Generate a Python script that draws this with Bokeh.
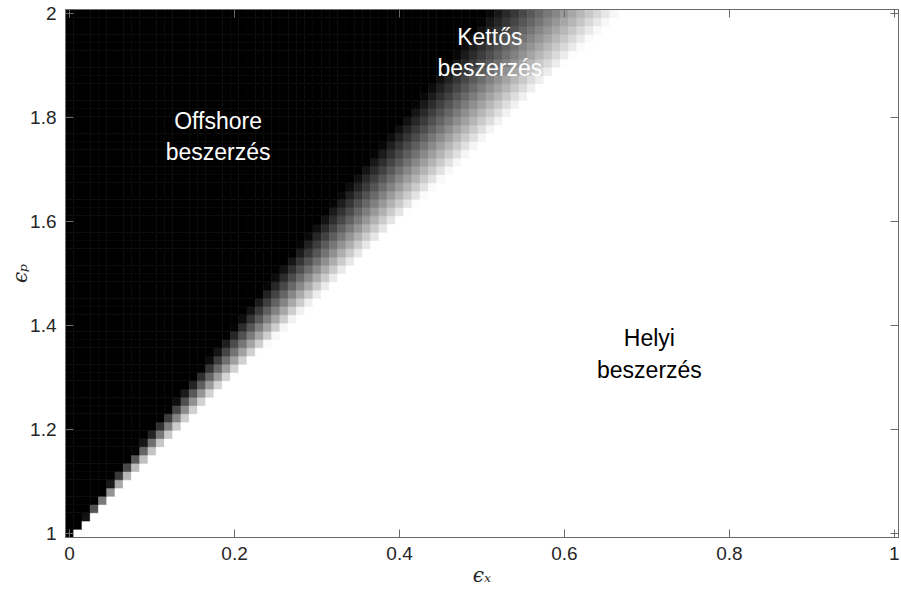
import numpy as np
from bokeh.plotting import figure
from bokeh.models import LinearAxis, FixedTicker, ColumnDataSource, Range1d
from bokeh.core.properties import value
from bokeh.embed import file_html
from bokeh.resources import INLINE

# ---- data ----
x_cells = np.round(np.linspace(0, 1, 101), 4)     # eps_x grid (cell centres)
y_cells = np.linspace(1, 2, 64)                   # eps_p grid (cell centres)

# boundaries of the mixed ("Kettős") zone, read at several eps_p levels
y_knots = [1.0, 1.11, 1.29, 1.47, 1.65, 1.83, 2.0]
black_edge = [0.005, 0.055, 0.146, 0.235, 0.326, 0.420, 0.505]   # offshore ends
white_edge = [0.008, 0.075, 0.190, 0.312, 0.431, 0.550, 0.665]   # local starts

x_ticks = [0, 0.2, 0.4, 0.6, 0.8, 1]
x_tick_labels = ["0", "0.2", "0.4", "0.6", "0.8", "1"]
y_ticks = [1, 1.2, 1.4, 1.6, 1.8, 2]
y_tick_labels = ["1", "1.2", "1.4", "1.6", "1.8", "2"]

x_title = "ϵₓ"
y_title = "ϵₚ"

region_labels = ["Offshore\nbeszerzés", "Kettős\nbeszerzés", "Helyi\nbeszerzés"]
region_x = [0.180, 0.5095, 0.703]
region_y = [1.7636, 1.925, 1.345]
region_colors = ["white", "white", "black"]

# ---- build cells ----
dx = x_cells[1] - x_cells[0]
dy = y_cells[1] - y_cells[0]
xs, ys, cols = [], [], []
for yv in y_cells:
    xb = np.interp(yv, y_knots, black_edge)
    xw = np.interp(yv, y_knots, white_edge)
    for xv in x_cells:
        v = (xv - xb) / max(xw - xb, 1e-9)
        v = min(max(v, 0.0), 1.0)
        g = int(round(255 * v))
        xs.append(xv)
        ys.append(yv)
        cols.append("#%02x%02x%02x" % (g, g, g))
src = ColumnDataSource(dict(x=xs, y=ys, c=cols))

AX = "#6a6a6a"
TXT = "#262626"

p = figure(output_backend="svg", toolbar_location=None,
           width=901, height=594, frame_width=833, frame_height=528,
           min_border_left=65, min_border_top=9, min_border_right=3,
           min_border_bottom=57,
           x_range=Range1d(-dx / 2, 1 + dx / 2),
           y_range=Range1d(1 - dy / 2, 2 + dy / 2),
           x_axis_location=None, y_axis_location=None)
p.grid.visible = False
p.background_fill_color = "white"
p.border_fill_color = "white"
p.outline_line_color = AX
p.outline_line_width = 1

p.rect(x="x", y="y", width=dx, height=dy, fill_color="c", line_color="c",
       line_width=0.6, source=src)

def make_axis(ticks, labels, show_labels, title=None):
    ax = LinearAxis(ticker=FixedTicker(ticks=ticks))
    ax.axis_line_color = AX
    ax.major_tick_line_color = AX
    ax.major_tick_in = 8
    ax.major_tick_out = 0
    ax.minor_tick_line_color = None
    if show_labels:
        ax.major_label_overrides = {t: l for t, l in zip(ticks, labels)}
        ax.major_label_text_font = "Liberation Sans"
        ax.major_label_text_font_size = "19px"
        ax.major_label_text_color = TXT
        ax.major_label_standoff = 9
    else:
        ax.major_label_overrides = {t: "" for t in ticks}
        ax.major_label_text_font_size = "1px"
        ax.major_label_standoff = 0
    if title:
        ax.axis_label = title
        ax.axis_label_text_font = "DejaVu Serif"
        ax.axis_label_text_font_style = "italic"
        ax.axis_label_text_font_size = "20px"
        ax.axis_label_text_color = TXT
    return ax

xb_ax = make_axis(x_ticks, x_tick_labels, True, x_title)
xb_ax.axis_label_standoff = 0
yl_ax = make_axis(y_ticks, y_tick_labels, True, y_title)
yl_ax.axis_label_standoff = -5
p.add_layout(xb_ax, "below")
p.add_layout(yl_ax, "left")
p.add_layout(make_axis(x_ticks, x_tick_labels, False), "above")
p.add_layout(make_axis(y_ticks, y_tick_labels, False), "right")

p.text(x=region_x, y=region_y, text=region_labels, text_color=region_colors,
       text_font=value("Liberation Sans"), text_font_size="23px",
       text_align="center", text_baseline="middle", text_line_height=1.2)

open("out.html", "w").write(file_html(p, INLINE))
